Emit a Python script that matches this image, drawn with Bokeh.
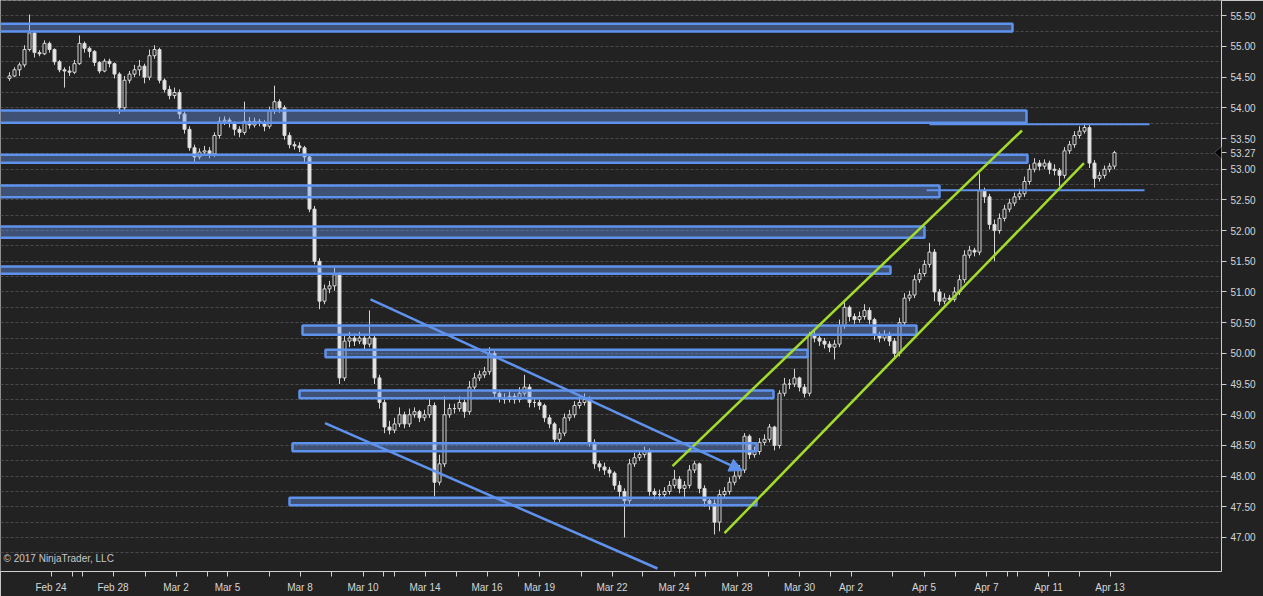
from bokeh.plotting import figure
from bokeh.models import (Range1d, FixedTicker, NumeralTickFormatter, Label, Arrow,
                          NormalHead, PolyAnnotation, ColumnDataSource)
from bokeh.embed import file_html
from bokeh.resources import INLINE

# ---------------- data (bar index on x, price on y) ----------------
FIRST_OPEN = 54.48
CLOSE = [
    54.52, 54.62, 54.70, 54.95, 55.22, 54.90, 54.88, 55.05, 54.95, 54.75,
    54.62, 54.60, 54.58, 54.72, 55.05, 54.97, 54.92, 54.74, 54.60, 54.76,
    54.72, 54.55, 54.00, 54.45, 54.55, 54.62, 54.68, 54.50, 54.85, 54.95,
    54.45, 54.30, 54.20, 54.25, 53.90, 53.65, 53.35, 53.20, 53.28, 53.30,
    53.25, 53.55, 53.78, 53.80, 53.75, 53.65, 53.60, 53.78, 53.72, 53.78,
    53.75, 53.70, 53.95, 54.10, 54.00, 53.55, 53.40, 53.38, 53.35, 53.20,
    52.35, 51.50, 50.85, 51.05, 51.10, 51.28, 49.60, 50.20, 50.25, 50.20,
    50.25, 50.15, 50.25, 49.60, 49.20, 48.80, 48.75, 48.85, 49.00, 48.85,
    49.00, 49.05, 48.95, 49.00, 49.15, 47.90, 48.20, 49.00, 49.10, 49.10,
    49.20, 49.05, 49.45, 49.60, 49.65, 49.70, 50.00, 49.35, 49.28, 49.25,
    49.30, 49.25, 49.35, 49.45, 49.20, 49.20, 49.15, 48.95, 48.85, 48.60,
    48.70, 48.95, 49.00, 49.15, 49.20, 49.25, 48.55, 48.20, 48.15, 48.10,
    48.05, 47.85, 47.75, 47.60, 48.20, 48.30, 48.35, 48.40, 47.75, 47.70,
    47.70, 47.75, 47.85, 47.95, 47.80, 47.85, 48.10, 48.20, 47.80, 47.60,
    47.55, 47.25, 47.70, 47.75, 47.90, 48.00, 48.10, 48.65, 48.35, 48.40,
    48.55, 48.60, 48.80, 48.50, 49.35, 49.50, 49.50, 49.60, 49.45, 49.35,
    50.30, 50.25, 50.20, 50.15, 50.10, 50.15, 50.45, 50.75, 50.60, 50.55,
    50.60, 50.70, 50.55, 50.30, 50.25, 50.30, 50.20, 50.00, 50.50, 50.90,
    50.95, 51.20, 51.30, 51.45, 51.65, 51.00, 50.85, 50.90, 50.88, 51.00,
    51.20, 51.60, 51.68, 51.65, 52.65, 52.55, 52.10, 52.00, 52.20, 52.35,
    52.45, 52.55, 52.60, 52.80, 53.00, 53.10, 53.05, 53.10, 53.00, 52.98,
    52.90, 53.30, 53.40, 53.55, 53.62, 53.68, 53.10, 52.85, 52.90, 53.00,
    53.05, 53.27]
HIGH = [
    54.58, 54.66, 54.74, 55.02, 55.52, 55.25, 54.94, 55.10, 55.08, 54.97,
    54.78, 54.66, 54.68, 54.78, 55.18, 55.08, 55.00, 54.94, 54.76, 54.80,
    54.80, 54.74, 54.58, 54.52, 54.60, 54.70, 54.78, 54.72, 54.95, 55.02,
    54.98, 54.48, 54.36, 54.33, 54.30, 53.95, 53.70, 53.40, 53.34, 53.38,
    53.36, 53.60, 53.85, 53.86, 53.84, 53.78, 53.70, 54.10, 53.85, 53.84,
    53.82, 53.80, 54.02, 54.36, 54.14, 54.04, 53.60, 53.45, 53.44, 53.38,
    53.24, 52.40, 51.55, 51.12, 51.18, 51.40, 51.32, 50.30, 50.35, 50.32,
    50.35, 50.30, 50.70, 50.30, 49.65, 49.25, 48.90, 48.95, 49.12, 49.05,
    49.10, 49.12, 49.08, 49.08, 49.28, 49.20, 48.35, 49.30, 49.18, 49.18,
    49.30, 49.25, 49.55, 49.68, 49.72, 49.78, 50.10, 50.05, 49.40, 49.35,
    49.38, 49.35, 49.45, 49.65, 49.50, 49.28, 49.25, 49.18, 49.00, 48.88,
    48.78, 49.02, 49.08, 49.22, 49.28, 49.35, 49.30, 48.60, 48.25, 48.22,
    48.15, 48.08, 47.92, 47.80, 48.28, 48.38, 48.42, 48.48, 48.45, 47.80,
    47.78, 47.82, 47.92, 48.10, 48.00, 47.92, 48.18, 48.25, 48.22, 47.85,
    47.65, 47.62, 47.78, 47.82, 47.98, 48.08, 48.18, 48.70, 48.68, 48.48,
    48.62, 48.68, 48.85, 48.82, 49.40, 49.60, 49.58, 49.75, 49.62, 49.50,
    50.35, 50.38, 50.32, 50.25, 50.20, 50.22, 50.55, 50.83, 50.78, 50.65,
    50.68, 50.80, 50.75, 50.58, 50.35, 50.38, 50.35, 50.25, 50.58, 50.98,
    51.02, 51.28, 51.38, 51.52, 51.80, 51.70, 51.05, 50.98, 50.95, 51.08,
    51.28, 51.68, 51.75, 51.72, 52.93, 52.70, 52.60, 52.18, 52.28, 52.42,
    52.52, 52.62, 52.68, 52.88, 53.08, 53.18, 53.15, 53.16, 53.14, 53.08,
    53.02, 53.36, 53.46, 53.62, 53.70, 53.75, 53.72, 53.15, 52.96, 53.06,
    53.10, 53.30]
LOW = [
    54.44, 54.50, 54.52, 54.66, 54.92, 54.82, 54.84, 54.86, 54.90, 54.70,
    54.58, 54.33, 54.52, 54.55, 54.70, 54.90, 54.82, 54.68, 54.56, 54.58,
    54.66, 54.48, 53.90, 53.95, 54.40, 54.50, 54.52, 54.40, 54.45, 54.80,
    54.40, 54.25, 54.14, 54.15, 53.82, 53.58, 53.30, 53.12, 53.16, 53.22,
    53.18, 53.20, 53.50, 53.72, 53.68, 53.55, 53.52, 53.56, 53.66, 53.68,
    53.70, 53.62, 53.66, 53.90, 53.92, 53.48, 53.34, 53.32, 53.28, 53.10,
    52.30, 51.45, 50.72, 50.80, 50.98, 51.02, 49.50, 49.55, 50.10, 50.12,
    50.15, 50.05, 50.10, 49.50, 49.10, 48.70, 48.68, 48.70, 48.80, 48.78,
    48.80, 48.95, 48.88, 48.90, 48.95, 47.67, 47.85, 48.15, 48.95, 49.02,
    49.05, 48.95, 49.00, 49.40, 49.55, 49.60, 49.65, 49.28, 49.20, 49.18,
    49.20, 49.18, 49.20, 49.30, 49.12, 49.12, 49.08, 48.88, 48.78, 48.52,
    48.55, 48.65, 48.90, 48.95, 49.10, 49.15, 48.48, 48.12, 48.08, 48.02,
    47.98, 47.78, 47.65, 47.00, 47.55, 48.15, 48.25, 48.30, 47.68, 47.62,
    47.62, 47.65, 47.70, 47.80, 47.72, 47.65, 47.80, 48.05, 47.72, 47.50,
    47.45, 47.05, 47.10, 47.65, 47.70, 47.85, 47.95, 48.05, 48.28, 48.30,
    48.35, 48.50, 48.55, 48.42, 48.45, 49.30, 49.42, 49.45, 49.38, 49.28,
    49.30, 50.18, 50.12, 50.08, 50.02, 49.90, 50.10, 50.40, 50.52, 50.48,
    50.50, 50.55, 50.48, 50.22, 50.18, 50.20, 50.12, 49.93, 49.95, 50.45,
    50.85, 50.90, 51.15, 51.25, 51.40, 50.85, 50.78, 50.80, 50.82, 50.84,
    50.95, 51.15, 51.55, 51.58, 51.60, 52.45, 52.02, 51.50, 51.95, 52.15,
    52.30, 52.40, 52.50, 52.55, 52.75, 52.95, 52.98, 53.00, 52.92, 52.90,
    52.72, 52.85, 53.25, 53.35, 53.50, 53.58, 53.02, 52.70, 52.80, 52.85,
    52.95, 53.00]
LAST_PRICE = 53.27

# date ticks (bar index) and their labels
X_TICKS = [8.3, 12.6, 14.5, 20.7, 27.1, 33.3, 39.5, 43.6, 51.9, 58.1, 64.3, 70.7, 74.8,
           76.9, 83.1, 89.3, 95.5, 101.7, 106.0, 114.3, 120.5, 126.6, 132.9, 137.1, 139.1,
           145.5, 151.7, 158.0, 164.2, 168.3, 176.5, 182.9, 189.1, 195.4, 199.5, 201.6,
           207.8, 213.9, 220.1]
X_LABELS = ["Feb 24", "", "", "Feb 28", "", "Mar 2", "", "Mar 5", "", "Mar 8", "", "Mar 10", "",
            "", "Mar 14", "", "Mar 16", "", "Mar 19", "", "Mar 22", "", "Mar 24", "", "",
            "Mar 28", "", "Mar 30", "", "Apr 2", "", "Apr 5", "", "Apr 7", "", "",
            "Apr 11", "", "Apr 13"]
Y_TICKS = [47.0, 47.5, 48.0, 48.5, 49.0, 49.5, 50.0, 50.5, 51.0, 51.5, 52.0, 52.5,
           53.0, 53.5, 54.0, 54.5, 55.0, 55.5]
GRID_Y = [46.75 + 0.25 * k for k in range(37)]

# drawing objects: support / resistance zones (bar index, price)
ZONE_LEFT = [-3, -3, -3, -3, -3, -3, 58.6, 63.2, 58.0, 56.6, 56.0]
ZONE_RIGHT = [200.6, 203.4, 203.6, 186.0, 183.0, 176.2, 181.4, 159.6, 152.8, 149.4, 149.4]
ZONE_TOP = [55.370, 53.957, 53.235, 52.735, 52.067, 51.415, 50.454, 50.058, 49.395, 48.535, 47.647]
ZONE_BOTTOM = [55.244, 53.757, 53.105, 52.544, 51.883, 51.296, 50.302, 49.937, 49.270, 48.406, 47.526]

# trend lines (x0, y0, x1, y1)
BLUE_LINE = (63.1, 48.862, 129.6, 46.495)
BLUE_ARROW = (72.2, 50.878, 146.6, 48.09)
GREEN_X0 = [132.6, 143.0]
GREEN_Y0 = [48.162, 47.070]
GREEN_X1 = [202.5, 214.9]
GREEN_Y1 = [53.631, 53.098]
HLINE_X0 = [184.0, 183.4]
HLINE_X1 = [228.0, 227.0]
HLINE_Y = [53.734, 52.659]

# ---------------- styling ----------------
BG = "#222222"
CANDLE_LINE = "#d4d4d4"
DOWN_FILL = "#e8e8e8"
BLUE = "#5f92ec"
GREEN = "#a3dc2a"
AXIS_C = "#cfcfcf"
FONT = "Liberation Sans"

p = figure(width=1263, height=596, x_range=Range1d(-1.8, 242.4), y_range=Range1d(46.446, 55.749),
           output_backend="svg", toolbar_location=None, y_axis_location="right",
           min_border_left=0, min_border_top=0, min_border_right=42, min_border_bottom=25,
           background_fill_color=BG, border_fill_color=BG, outline_line_color=None)

p.xgrid.visible = False
p.ygrid.ticker = FixedTicker(ticks=GRID_Y)
p.ygrid.grid_line_color = "#4a4a4a"
p.ygrid.grid_line_dash = "3 2"
p.ygrid.grid_line_width = 1

yax = p.yaxis[0]
yax.ticker = FixedTicker(ticks=Y_TICKS + [LAST_PRICE])
yax.formatter = NumeralTickFormatter(format="0.00")
xax = p.xaxis[0]
xax.ticker = FixedTicker(ticks=X_TICKS)
xax.major_label_overrides = {t: lab for t, lab in zip(X_TICKS, X_LABELS)}
for ax in (xax, yax):
    ax.axis_line_color = AXIS_C
    ax.axis_line_width = 1
    ax.major_tick_line_color = AXIS_C
    ax.major_tick_in = 0
    ax.major_tick_out = 5
    ax.minor_tick_line_color = None
    ax.major_label_text_color = "#d6d6d6"
    ax.major_label_text_font = FONT
    ax.major_label_text_font_size = "10px"
yax.major_label_standoff = 4
xax.major_label_standoff = 5

# candles
OPEN = [FIRST_OPEN] + CLOSE[:-1]
idx = list(range(len(CLOSE)))
src = ColumnDataSource(dict(
    x=idx, h=HIGH, l=LOW,
    top=[max(o, c) for o, c in zip(OPEN, CLOSE)],
    bot=[min(o, c) for o, c in zip(OPEN, CLOSE)],
    fill=[BG if c >= o else DOWN_FILL for o, c in zip(OPEN, CLOSE)],
))
p.segment(x0="x", y0="l", x1="x", y1="h", source=src, line_color=CANDLE_LINE, line_width=1)
p.vbar(x="x", width=0.6, top="top", bottom="bot", source=src, fill_color="fill",
       line_color=CANDLE_LINE, line_width=1)

# zones
p.quad(left=ZONE_LEFT, right=ZONE_RIGHT, top=ZONE_TOP, bottom=ZONE_BOTTOM,
       fill_color="#6b9cf2", fill_alpha=0.4, line_color=BLUE, line_width=2.5)

# lines
p.segment(x0=[BLUE_LINE[0]], y0=[BLUE_LINE[1]], x1=[BLUE_LINE[2]], y1=[BLUE_LINE[3]],
          line_color=BLUE, line_width=2.5)
p.segment(x0=HLINE_X0, y0=HLINE_Y, x1=HLINE_X1, y1=HLINE_Y, line_color=BLUE, line_width=2)
p.segment(x0=GREEN_X0, y0=GREEN_Y0, x1=GREEN_X1, y1=GREEN_Y1, line_color=GREEN, line_width=2.5)
p.add_layout(Arrow(end=NormalHead(size=13, fill_color=BLUE, line_color=BLUE),
                   x_start=BLUE_ARROW[0], y_start=BLUE_ARROW[1],
                   x_end=BLUE_ARROW[2], y_end=BLUE_ARROW[3],
                   line_color=BLUE, line_width=2.5))

# copyright
p.add_layout(Label(x=-1.2, y=46.66, text="\u00a9 2017 NinjaTrader, LLC", text_font=FONT,
                   text_font_size="10px", text_color="#c8c8c8", text_baseline="middle"))

# last price pointer (the part that lies inside the plot area)
p.add_layout(PolyAnnotation(xs=[241.0, 242.45, 242.45], ys=[LAST_PRICE, LAST_PRICE + 0.105, LAST_PRICE - 0.105],
                            fill_color="black", fill_alpha=1.0, line_color="#d8d8d8", line_width=1))

open("out.html", "w").write(file_html(p, INLINE, title="Chart"))
